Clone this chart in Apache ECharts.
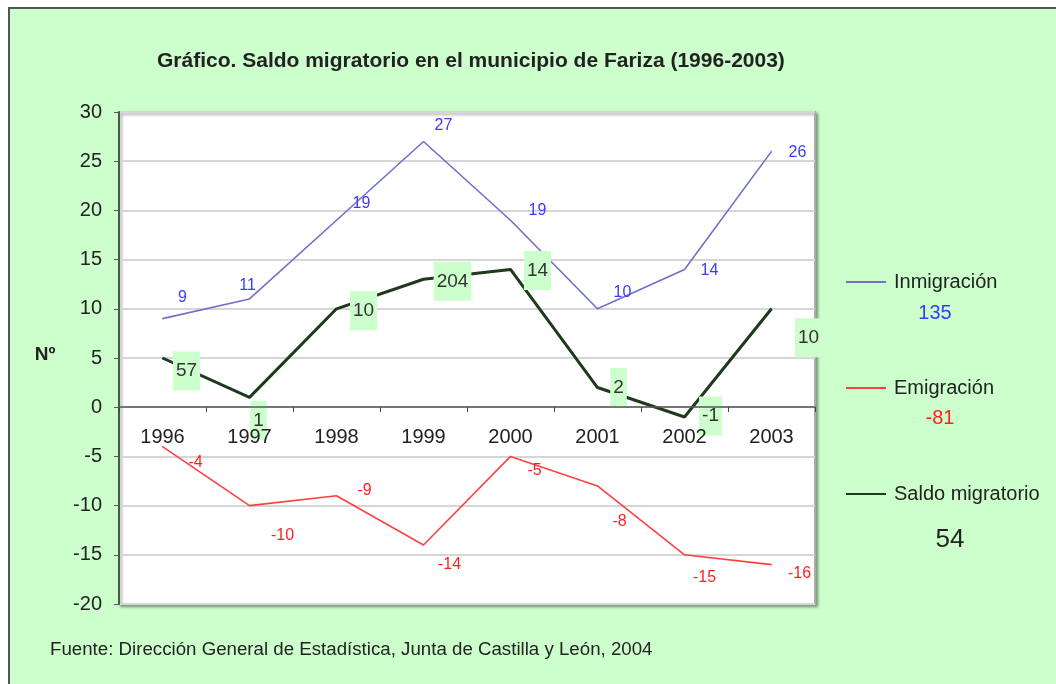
<!DOCTYPE html>
<html>
<head>
<meta charset="utf-8">
<script src="https://cdn.jsdelivr.net/npm/echarts@6/dist/echarts.min.js"></script>
<style>
html, body { margin:0; padding:0; background:#ffffff; }
#main { width:1056px; height:684px; }
</style>
</head>
<body>
<div id="main"></div>
<script>
// años
var years = ['1996', '1997', '1998', '1999', '2000', '2001', '2002', '2003'];
// series
var inmigracion = [9, 11, 19, 27, 19, 10, 14, 26];
var emigracion = [-4, -10, -9, -14, -5, -8, -15, -16];
var saldo = [5, 1, 10, 13, 14, 2, -1, 10];
// etiquetas del saldo tal como aparecen en el gráfico
var saldoLabels = ['57', '1', '10', '204', '14', '2', '-1', '10'];
var yTicks = [-20, -15, -10, -5, 0, 5, 10, 15, 20, 25, 30];

// desplazamientos de las etiquetas (px)
var offInm = [[20,-21],[-2,-13],[25,-17],[20,-16],[27,-10],[25,-16],[25,1],[26,1]];
var offEmi = [[33,16],[33,30],[28,-5],[26,20],[24,14],[22,36],[20,23],[28,9]];
var offSal = [[24,13],[9,23],[27,2],[29,2],[27,1],[21,0],[26,-1],[37,29]];

var FONT = 'Liberation Sans, Arial, sans-serif';

function sum(arr) {
	var s = 0;
	for (var i = 0; i < arr.length; i++) s += arr[i];
	return s;
}

function withOffsets(values, offs) {
	var res = [];
	for (var i = 0; i < values.length; i++) {
		res.push({value: values[i], label: {offset: offs[i]}});
	}
	return res;
}

var chart = echarts.init(document.getElementById('main'));
var option = {
	backgroundColor: '#ffffff',
	animation: false,
	textStyle: {fontFamily: FONT},
	title: {
		text: 'Gráfico. Saldo migratorio en el municipio de Fariza (1996-2003)',
		left: 152,
		top: 46,
		textStyle: {fontSize: 21, fontWeight: 'bold', color: '#222', fontFamily: FONT}
	},
	legend: {
		orient: 'vertical',
		left: 840,
		top: 267,
		itemWidth: 40,
		itemHeight: 14,
		itemGap: 86,
		itemStyle: {color: 'transparent', borderColor: 'transparent', borderWidth: 0, opacity: 0},
		textStyle: {fontSize: 20, color: '#222', fontFamily: FONT, padding: [0, 0, 0, 3]},
		data: ['Inmigración', 'Emigración', 'Saldo migratorio']
	},
	grid: {
		show: true,
		left: 119, top: 112, width: 696, height: 492,
		backgroundColor: '#ffffff',
		borderColor: '#aaaaaa',
		borderWidth: 2,
		shadowColor: 'rgba(0,0,0,0.35)',
		shadowBlur: 3,
		shadowOffsetX: 2,
		shadowOffsetY: 2
	},
	xAxis: {
		type: 'category',
		data: years,
		boundaryGap: true,
		position: 'bottom',
		offset: -197,
		z: 10,
		axisLine: {onZero: false, lineStyle: {color: '#555', width: 1.5}},
		axisTick: {show: true, length: 5, interval: 0, lineStyle: {color: '#444'}},
		axisLabel: {margin: 20, fontSize: 20, color: '#222', fontFamily: FONT, interval: 0},
		splitLine: {show: false}
	},
	yAxis: {
		type: 'value',
		min: -20, max: 30, interval: 5,
		axisLine: {show: true, onZero: false, lineStyle: {color: '#4a5a4a', width: 2}},
		axisTick: {show: true, length: 5, lineStyle: {color: '#555'}},
		axisLabel: {margin: 17, fontSize: 20, color: '#222', fontFamily: FONT},
		splitLine: {show: true, lineStyle: {color: '#d6d6d6', width: 2}}
	},
	series: [
		{
			name: 'Inmigración',
			type: 'line',
			data: withOffsets(inmigracion, offInm),
			symbol: 'circle', symbolSize: 1,
			itemStyle: {color: '#7070c8'},
			lineStyle: {color: '#7070c8', width: 1.6},
			label: {show: true, position: 'inside', color: '#3a3aff', fontSize: 16, fontFamily: FONT},
			emphasis: {disabled: true},
			z: 3
		},
		{
			name: 'Emigración',
			type: 'line',
			data: withOffsets(emigracion, offEmi),
			symbol: 'circle', symbolSize: 1,
			itemStyle: {color: '#ff4040'},
			lineStyle: {color: '#ff4040', width: 1.6},
			label: {show: true, position: 'inside', color: '#ff2020', fontSize: 16, fontFamily: FONT},
			emphasis: {disabled: true},
			z: 3
		},
		{
			name: 'Saldo migratorio',
			type: 'line',
			data: withOffsets(saldo, offSal),
			symbol: 'circle', symbolSize: 1,
			itemStyle: {color: '#1d3a1d'},
			lineStyle: {color: '#1d3a1d', width: 3},
			label: {
				show: true, position: 'inside', color: '#333', fontSize: 19, fontFamily: FONT,
				backgroundColor: '#ccffcc', padding: [8, 3, 12, 3],
				formatter: function (p) { return saldoLabels[p.dataIndex]; }
			},
			emphasis: {disabled: true},
			z: 4
		}
	],
	graphic: [
		{
			type: 'rect', z: -10, zlevel: 0, silent: true,
			shape: {x: 9, y: 8, width: 1100, height: 720},
			style: {fill: '#ccffcc', stroke: '#555', lineWidth: 2}
		},
		{
			type: 'text', x: 45, y: 355,
			style: {text: 'Nº', fontSize: 19, fontWeight: 'bold', fill: '#222', fontFamily: FONT,
				align: 'center', verticalAlign: 'middle'}
		},
		{
			type: 'text', x: 935, y: 313,
			style: {text: String(sum(inmigracion)), fontSize: 20, fill: '#3a3aff', fontFamily: FONT,
				align: 'center', verticalAlign: 'middle'}
		},
		{
			type: 'text', x: 940, y: 418,
			style: {text: String(sum(emigracion)), fontSize: 20, fill: '#ff2020', fontFamily: FONT,
				align: 'center', verticalAlign: 'middle'}
		},
		{
			type: 'text', x: 950, y: 540,
			style: {text: String(sum(saldo)), fontSize: 26, fill: '#222', fontFamily: FONT,
				align: 'center', verticalAlign: 'middle'}
		},
		{
			type: 'text', x: 50, y: 650,
			style: {text: 'Fuente: Dirección General de Estadística, Junta de Castilla y León, 2004',
				fontSize: 18.7, fill: '#222', fontFamily: FONT, verticalAlign: 'middle'}
		}
	]
};
chart.setOption(option);
</script>
</body>
</html>
